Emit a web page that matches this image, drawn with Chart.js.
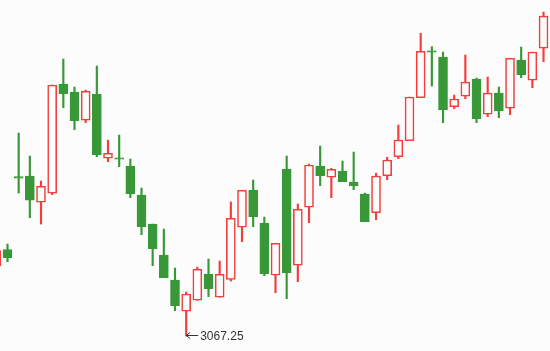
<!DOCTYPE html>
<html>
<head>
<meta charset="utf-8">
<script src="https://cdn.jsdelivr.net/npm/chart.js@4"></script>
<style>
  html, body { margin: 0; padding: 0; background: #fcfcfc; }
  #wrap { width: 550px; height: 351px; }
</style>
</head>
<body>
<div id="wrap"><canvas id="c_chart"></canvas></div>
<script>
// daily bars, oldest first (first one is cut off by the left edge)
let opens = [3137.6, 3153.6, 3226.6, 3227.2, 3201.0, 3210.0, 3319.2, 3311.2, 3283.0, 3309.2,
  3245.0, 3245.4, 3237.2, 3208.2, 3179.2, 3148.2, 3123.2, 3092.0, 3103.0, 3129.2,
  3106.0, 3123.8, 3176.0, 3213.2, 3180.2, 3128.0, 3234.2, 3138.0, 3196.0, 3237.2,
  3226.0, 3232.2, 3221.2, 3209.2, 3190.6, 3227.6, 3246.6, 3262.6, 3305.6, 3352.4,
  3346.2, 3296.6, 3307.0, 3324.2, 3289.0, 3310.2, 3295.0, 3343.2, 3323.0, 3355.0];
let highs = [3155.2, 3159.2, 3270.2, 3247.2, 3222.2, 3318.2, 3344.2, 3316.2, 3313.2, 3337.2,
  3263.2, 3268.2, 3244.2, 3215.2, 3179.2, 3174.2, 3135.2, 3111.2, 3136.2, 3144.2,
  3142.2, 3201.2, 3213.0, 3223.2, 3186.2, 3160.0, 3247.2, 3199.2, 3239.2, 3257.2,
  3235.0, 3242.2, 3251.2, 3210.2, 3230.0, 3246.0, 3278.2, 3306.2, 3370.0, 3356.6,
  3351.2, 3308.2, 3348.2, 3325.2, 3326.2, 3316.2, 3345.0, 3356.2, 3351.2, 3391.2];
let lows = [3135.2, 3141.6, 3210.2, 3185.6, 3179.2, 3208.6, 3295.6, 3273.6, 3280.6, 3246.6,
  3241.6, 3236.6, 3205.6, 3168.6, 3137.6, 3125.6, 3092.6, 3067.25, 3103.0, 3106.6,
  3106.0, 3122.2, 3161.6, 3176.6, 3127.6, 3110.6, 3104.6, 3121.6, 3180.6, 3217.6,
  3205.6, 3221.6, 3213.6, 3181.6, 3183.6, 3223.6, 3244.6, 3262.6, 3305.6, 3317.2,
  3280.6, 3294.6, 3304.6, 3280.6, 3286.6, 3285.6, 3288.6, 3325.6, 3315.6, 3341.6];
let closes = [3152.6, 3145.6, 3225.0, 3203.2, 3217.0, 3318.2, 3309.6, 3282.6, 3312.0, 3248.6,
  3250.0, 3244.0, 3209.6, 3176.6, 3154.6, 3125.6, 3097.6, 3109.2, 3134.0, 3114.6,
  3129.0, 3185.0, 3213.0, 3186.6, 3129.6, 3160.0, 3130.6, 3194.0, 3238.2, 3227.6,
  3234.0, 3221.6, 3217.6, 3181.6, 3227.2, 3243.2, 3263.2, 3306.2, 3352.0, 3351.0,
  3293.6, 3304.2, 3321.2, 3284.6, 3310.2, 3292.6, 3345.0, 3328.6, 3351.2, 3387.2];

const UP_COLOR = 'rgb(244, 62, 62)';
const DOWN_COLOR = 'rgb(56, 152, 56)';
const BG_COLOR = '#fcfcfc';

function isUp(i) {
  return closes[i] >= opens[i];
}

function buildDatasets() {
  let bodies = [], wicks = [], bodyFill = [], lineColor = [];
  for (let i = 0; i < opens.length; i++) {
    bodies.push({ x: i, y: [opens[i], closes[i]] });
    wicks.push({ x: i, y: [lows[i], highs[i]] });
    lineColor.push(isUp(i) ? UP_COLOR : DOWN_COLOR);
    // up bars are hollow, down bars are filled
    bodyFill.push(isUp(i) ? BG_COLOR : DOWN_COLOR);
  }
  return [
    {
      label: 'body',
      data: bodies,
      backgroundColor: bodyFill,
      borderColor: lineColor,
      borderWidth: 1.6,
      borderSkipped: false,
      barThickness: 9,
      grouped: false,
      order: 1
    },
    {
      label: 'wick',
      data: wicks,
      backgroundColor: lineColor,
      borderWidth: 0,
      barThickness: 1.5,
      grouped: false,
      order: 2
    }
  ];
}

// arrow + text at the lowest low
const lowMarker = {
  id: 'lowMarker',
  afterDatasetsDraw(chart) {
    let ctx = chart.ctx;
    let minIdx = 0;
    for (let i = 1; i < lows.length; i++) {
      if (lows[i] < lows[minIdx]) minIdx = i;
    }
    let x = chart.scales.x.getPixelForValue(minIdx);
    let y = Math.round(chart.scales.y.getPixelForValue(lows[minIdx])) - 0.5;
    ctx.save();
    ctx.strokeStyle = '#333';
    ctx.fillStyle = '#333';
    ctx.lineWidth = 1;
    ctx.beginPath();
    ctx.moveTo(x, y);
    ctx.lineTo(x + 12, y);
    ctx.moveTo(x + 4, y - 3);
    ctx.lineTo(x, y);
    ctx.lineTo(x + 4, y + 3);
    ctx.stroke();
    ctx.font = '12px "Liberation Sans", Arial, sans-serif';
    ctx.textBaseline = 'middle';
    ctx.fillText(lows[minIdx].toFixed(2), x + 14, y + 1);
    ctx.restore();
  }
};

let ctx = document.getElementById('c_chart').getContext('2d');

new Chart(ctx, {
  type: 'bar',
  data: { datasets: buildDatasets() },
  options: {
    responsive: true,
    maintainAspectRatio: false,
    animation: false,
    layout: { padding: 0 },
    plugins: {
      legend: { display: false },
      tooltip: { enabled: false }
    },
    scales: {
      x: { type: 'linear', display: false, min: 0.3287, max: 49.58, offset: false },
      y: { type: 'linear', display: false, min: 3052.25, max: 3403.25 }
    }
  },
  plugins: [lowMarker]
});
</script>
</body>
</html>
